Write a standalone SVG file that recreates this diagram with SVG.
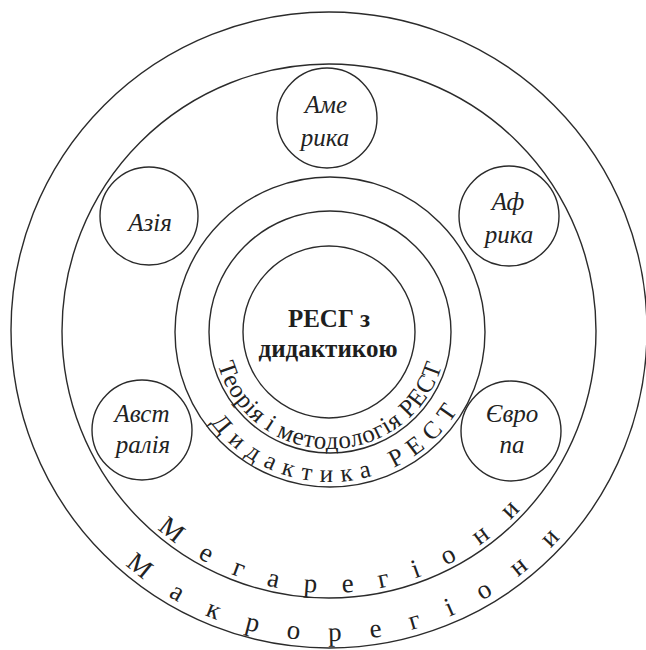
<svg xmlns="http://www.w3.org/2000/svg" width="646" height="650" viewBox="0 0 646 650">
<style>
.ring{fill:none;stroke:#2b2b2b;stroke-width:1.4}
.node{fill:#fff;stroke:#2b2b2b;stroke-width:1.4}
.reg{font-family:'Liberation Serif','DejaVu Serif',serif;font-style:italic;font-size:25px;fill:#222;text-anchor:middle}
.ctr{font-family:'Liberation Serif','DejaVu Serif',serif;font-weight:bold;font-size:25px;fill:#1e1e1e;text-anchor:middle}
.arc{font-family:'Liberation Serif','DejaVu Serif',serif;font-size:25px;fill:#222}
</style>
<defs>
<path id="pTeo" d="M 213,332 A 117 117 0 0 0 447,332"/>
<path id="pDid" d="M 180,332 A 150 150 0 0 0 480,332"/>
<path id="pMeg" d="M 67,331 A 262 262 0 0 0 591,331"/>
<path id="pMak" d="M 18,330 A 311 311 0 0 0 640,330"/>
</defs>
<rect width="646" height="650" fill="#fff"/>
<g id="makroregiony">
<circle class="ring" cx="329" cy="330" r="318"/>
<text class="arc" style="font-size:27px"><textPath href="#pMak" startOffset="266" textLength="483" lengthAdjust="spacing">Макрорегіони</textPath></text>
</g>
<g id="megaregiony">
<circle class="ring" cx="329" cy="331" r="267"/>
<text class="arc" style="font-size:27px"><textPath href="#pMeg" startOffset="224" textLength="402" lengthAdjust="spacing">Мегарегіони</textPath></text>
</g>
<g id="dydaktyka">
<circle class="ring" cx="330" cy="332" r="155"/>
<text class="arc"><textPath href="#pDid" startOffset="97" textLength="291" lengthAdjust="spacing">Дидактика РЕСТ</textPath></text>
</g>
<g id="teoriia">
<circle class="ring" cx="330" cy="332" r="121"/>
<text class="arc"><textPath href="#pTeo" startOffset="33" textLength="300" lengthAdjust="spacing">Теорія і методологія РЕСТ</textPath></text>
</g>
<g id="center">
<circle class="node" cx="329" cy="332" r="86"/>
<text class="ctr" x="329" y="327">РЕСГ з</text>
<text class="ctr" x="328" y="357">дидактикою</text>
</g>
<g id="amerika">
<circle class="node" cx="327" cy="118" r="50"/>
<text class="reg" x="326" y="113">Аме</text>
<text class="reg" x="325" y="146">рика</text>
</g>
<g id="aziia">
<circle class="node" cx="149" cy="216" r="49"/>
<text class="reg" x="150" y="231">Азія</text>
</g>
<g id="afryka">
<circle class="node" cx="509" cy="216" r="50"/>
<text class="reg" x="508" y="210">Аф</text>
<text class="reg" x="509" y="243">рика</text>
</g>
<g id="avstraliia">
<circle class="node" cx="142" cy="430" r="50"/>
<text class="reg" x="142" y="422">Авст</text>
<text class="reg" x="143" y="453">ралія</text>
</g>
<g id="yevropa">
<circle class="node" cx="511" cy="431" r="50"/>
<text class="reg" x="512" y="422">Євро</text>
<text class="reg" x="512" y="453">па</text>
</g>
<g id="connectors"/>
</svg>
